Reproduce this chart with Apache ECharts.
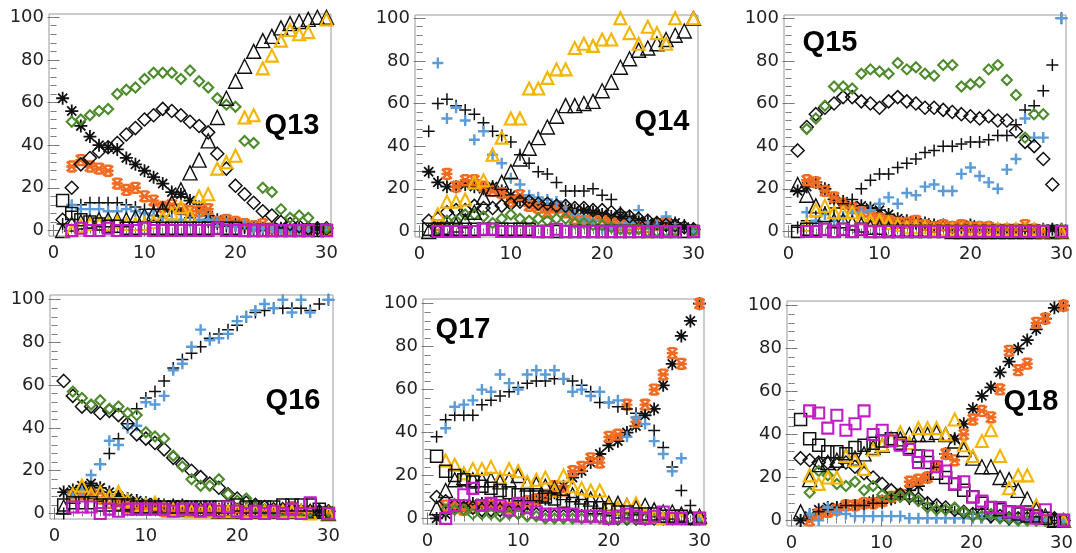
<!DOCTYPE html>
<html><head><meta charset="utf-8">
<script src="https://cdn.jsdelivr.net/npm/echarts@6/dist/echarts.min.js"></script>
<style>html,body{margin:0;padding:0;background:#fff}#c{width:1076px;height:553px}</style>
</head><body><div id="c"></div>
<script>
// ---------- data ----------
const xValues = [1,2,3,4,5,6,7,8,9,10,11,12,13,14,15,16,17,18,19,20,21,22,23,24,25,26,27,28,29,30];
const panelNames = ['Q13','Q14','Q15','Q16','Q17','Q18'];
const xTickLabels = [0,10,20,30];
const yTickLabels = [0,20,40,60,80,100];

// Q13
const q13BlackStar   = [62,56,49,44,40,39,38,34,31,28,25,22,18,17,14,11,7,5,4,3,2,1,1,1,1,1,1,1,1,1];
const q13OrangeStar  = [null,30,33,30,29,28,22,19,20,16,14,11,12,10,9,9,10,4,5,4,3,2,3,1,0,0,0,0,null,0];
const q13BlackPlus   = [3,9,12,13,13,13,13,12,11,10,10,10,9,8,6,5,4,3,2,2,1,1,1,1,1,0,0,0,0,0];
const q13BluePlus    = [null,12,10,10,10,9,9,10,9,8,7,6,5,5,4,5,5,4,3,2,3,1,1,1,0,0,0,0,null,0];
const q13BlackDiam   = [5,20,31,34,37,39,41,45,48,52,54,57,56,54,51,49,46,36,29,21,17,13,9,7,4,3,2,1,1,1];
const q13GreenDiam   = [null,51,52,54,56,57,64,66,67,71,74,74,74,71,75,70,67,62,59,58,42,41,20,18,10,6,7,6,null,1];
const q13BlackTri    = [0,3,4,4,5,5,5,5,6,7,8,10,13,19,27,33,42,53,62,70,77,84,89,91,95,97,98,99,100,100];
const q13YellowTri   = [null,0,2,3,3,3,4,3,3,3,4,6,8,11,7,16,17,29,32,35,53,54,76,82,89,94,92,93,null,99];
const q13BlackSq     = [14,8,5,4,3,2,2,1,1,1,1,1,1,1,1,1,1,1,1,1,0,0,0,0,0,0,0,0,0,0];
const q13MagSq       = [null,0,1,0,0,1,0,0,0,1,0,0,0,0,0,0,0,1,0,0,0,0,0,0,0,0,0,0,null,0];

// Q14
const q14BlackStar   = [28,23,21,21,22,21,20,21,19,17,15,14,13,12,12,11,10,10,9,8,7,7,6,5,4,4,3,4,2,1];
const q14OrangeStar  = [null,3,27,21,24,24,21,19,18,14,17,12,11,9,11,9,6,5,5,5,4,3,3,2,2,3,4,1,null,0];
const q14BlackPlus   = [47,60,62,59,57,55,51,47,45,42,36,32,28,27,23,19,19,19,20,17,15,9,7,6,5,4,4,3,3,1];
const q14BluePlus    = [null,79,53,58,52,43,47,36,32,25,22,17,16,15,14,10,8,6,5,1,2,3,4,10,3,3,7,2,null,0];
const q14BlackDiam   = [5,6,9,10,10,12,11,11,12,13,14,14,13,13,12,12,11,11,10,10,9,8,7,6,5,4,3,3,2,1];
const q14GreenDiam   = [null,1,5,5,8,8,7,4,6,8,6,5,6,5,6,6,4,4,3,3,2,1,1,1,0,0,0,0,null,0];
const q14BlackTri    = [0,1,2,3,5,9,16,20,23,28,34,39,44,49,54,59,59,60,61,66,70,77,81,85,86,88,90,92,94,100];
const q14YellowTri   = [null,8,14,14,15,23,24,36,44,53,53,67,67,72,76,76,86,88,87,90,90,100,93,88,96,93,88,100,null,100];
const q14BlackSq     = [1,1,1,1,1,1,1,1,1,1,1,1,0,0,0,0,0,0,0,0,0,0,0,0,0,0,0,0,0,0];
const q14MagSq       = [null,0,0,0,0,0,1,1,0,0,0,0,0,0,1,0,0,0,0,0,0,0,0,0,0,0,0,0,null,0];

// Q15
const q15BlackStar   = [19,21,23,20,15,14,12,12,11,10,8,6,5,4,4,3,3,2,2,3,2,2,1,1,1,1,1,1,1,1];
const q15OrangeStar  = [null,24,23,19,16,13,11,9,7,6,5,4,4,5,3,2,3,2,3,2,2,2,1,1,1,3,1,0,null,0];
const q15BlackPlus   = [2,5,7,9,11,13,15,20,24,27,27,30,32,34,37,38,40,40,41,42,42,43,45,45,50,57,59,66,78,100];
const q15BluePlus    = [null,9,5,8,5,7,9,9,10,13,16,13,18,17,21,22,19,19,27,30,26,23,20,29,34,53,44,44,null,100];
const q15BlackDiam   = [38,49,55,58,60,63,63,61,60,58,61,63,61,60,58,58,57,56,55,54,53,54,52,52,47,42,40,34,22,null];
const q15GreenDiam   = [null,48,53,59,68,68,67,74,76,75,74,79,76,77,74,73,78,78,68,69,70,76,78,71,64,44,55,55,null,null];
const q15BlackTri    = [22,17,12,8,5,5,4,3,2,2,1,1,1,1,1,1,1,0,0,0,0,0,0,0,0,0,0,0,0,0];
const q15YellowTri   = [null,3,10,12,9,9,9,6,5,5,4,3,2,2,2,1,1,1,1,1,1,1,1,1,1,1,1,0,null,0];
const q15BlackSq     = [0,1,1,1,0,1,0,1,0,0,0,0,0,0,0,0,0,0,0,0,0,0,0,0,0,0,0,0,0,0];
const q15MagSq       = [null,0,0,1,0,1,0,1,0,0,0,0,0,0,0,0,0,0,0,0,0,0,0,0,0,0,0,0,null,0];

// Q16
const q16BlackStar   = [10,11,13,14,12,10,8,7,6,5,5,4,4,4,3,3,3,2,2,2,2,2,1,1,1,1,1,1,1,1];
const q16OrangeStar  = [null,8,9,9,7,5,4,3,2,2,2,1,1,1,1,1,1,1,1,1,1,1,1,1,1,3,1,1,null,0];
const q16BlackPlus   = [0,8,12,13,23,28,35,42,49,54,57,62,68,72,75,78,82,84,86,88,92,94,95,96,96,96,96,95,98,100];
const q16BluePlus    = [null,9,11,18,23,34,32,40,41,52,51,55,67,70,78,86,81,82,84,90,92,95,98,96,100,94,100,94,null,100];
const q16BlackDiam   = [62,55,50,50,47,48,46,42,37,35,33,30,26,23,20,17,14,12,9,7,5,4,3,2,2,1,1,1,1,1];
const q16GreenDiam   = [null,57,54,51,53,49,50,47,46,38,36,35,27,22,16,13,13,16,9,6,7,3,2,1,1,1,1,1,null,1];
const q16BlackTri    = [3,8,11,10,9,8,7,5,4,4,4,3,3,2,2,2,2,1,1,1,1,1,1,1,1,1,1,1,1,0];
const q16YellowTri   = [null,9,13,9,10,8,10,6,4,4,5,3,2,2,1,1,1,1,1,1,1,1,1,1,1,1,1,0,null,0];
const q16BlackSq     = [4,5,5,5,4,4,4,4,3,3,3,3,3,3,3,3,3,3,3,4,3,3,3,3,4,4,4,4,2,0];
const q16MagSq       = [null,3,3,3,0,2,1,2,2,2,2,2,1,2,2,1,2,1,3,1,0,1,0,1,0,2,0,5,null,0];

// Q17
const q17BlackStar   = [0,2,5,6,7,7,7,6,6,6,7,8,9,12,15,19,22,26,30,34,36,40,43,48,51,62,72,85,92,100];
const q17OrangeStar  = [null,6,5,4,5,6,6,6,5,6,8,9,11,15,13,22,24,28,26,38,39,53,45,53,60,67,77,72,null,100];
const q17BlackPlus   = [38,46,48,48,48,53,55,57,59,61,63,64,64,65,65,64,62,59,54,54,52,51,49,48,41,33,24,13,6,0];
const q17BluePlus    = [null,42,52,53,55,60,59,67,63,60,67,69,67,69,65,59,60,57,59,54,55,38,47,44,36,30,22,28,null,0];
const q17BlackDiam   = [10,8,6,5,5,4,4,4,3,3,2,2,1,1,1,1,1,1,1,0,0,0,0,0,0,0,0,0,0,0];
const q17GreenDiam   = [null,4,4,4,2,2,2,1,2,2,1,1,0,0,0,0,0,0,0,0,0,0,0,0,0,0,0,0,null,0];
const q17BlackTri    = [5,13,18,19,18,18,18,17,18,20,16,16,15,14,12,11,10,9,8,7,7,6,5,6,4,3,3,2,1,1];
const q17YellowTri   = [null,27,25,21,23,23,24,19,23,22,17,18,19,13,20,15,14,13,13,6,5,6,7,2,1,0,0,0,null,0];
const q17BlackSq     = [29,22,20,18,17,15,14,13,12,11,11,11,10,9,8,7,6,5,5,4,3,3,2,2,2,1,1,1,0,0];
const q17MagSq       = [null,0,6,11,14,6,7,6,4,7,5,3,2,2,2,2,1,1,1,0,1,2,1,0,1,3,0,0,null,0];

// Q18
const q18BlackStar   = [0,2,5,6,6,7,7,8,9,9,10,12,14,16,20,25,31,38,45,52,58,62,69,74,80,84,89,94,99,100];
const q18OrangeStar  = [null,0,3,4,5,7,7,8,8,9,11,12,18,19,20,25,31,28,40,47,51,48,61,79,70,73,92,94,null,100];
const q18BlackPlus   = [0,3,4,5,6,7,7,7,8,8,10,11,10,9,8,6,5,4,3,3,2,2,1,1,1,1,0,0,0,0];
const q18BluePlus    = [null,3,0,6,4,3,2,2,2,2,2,2,1,1,1,1,1,1,1,1,1,1,1,0,0,0,0,0,null,0];
const q18BlackDiam   = [29,28,27,27,26,27,25,22,20,17,14,12,11,10,8,7,6,5,4,3,3,2,2,1,1,1,1,1,1,0];
const q18GreenDiam   = [null,13,23,21,17,16,18,14,16,12,11,11,11,9,6,5,5,6,4,2,2,3,1,1,0,0,0,0,null,0];
const q18BlackTri    = [4,19,26,27,28,30,29,31,34,35,38,38,40,40,40,41,40,37,33,29,25,25,20,19,14,10,5,2,0,0];
const q18YellowTri   = [null,21,17,20,20,30,28,24,33,35,38,41,36,43,43,43,40,47,35,30,37,42,30,15,21,21,7,1,null,0];
const q18BlackSq     = [47,38,35,32,32,31,34,35,36,37,38,36,34,30,27,22,20,17,14,11,8,6,5,4,3,2,2,1,0,0];
const q18MagSq       = [null,51,50,43,49,42,45,51,40,42,37,35,33,27,30,25,23,17,18,11,9,6,6,4,4,3,1,5,null,0];

// ---------- layout & styles ----------
const panels = [
  {left:49,  top:14,  width:282, height:222, ymax:101.5, lx:292,  ly:126,
   data:[q13BlackStar,q13OrangeStar,q13BlackPlus,q13BluePlus,q13BlackDiam,q13GreenDiam,q13BlackTri,q13YellowTri,q13BlackSq,q13MagSq]},
  {left:415, top:15,  width:283, height:222, ymax:101.5, lx:662,  ly:122,
   data:[q14BlackStar,q14OrangeStar,q14BlackPlus,q14BluePlus,q14BlackDiam,q14GreenDiam,q14BlackTri,q14YellowTri,q14BlackSq,q14MagSq]},
  {left:784, top:15,  width:282, height:222, ymax:101.5, lx:830,  ly:43,
   data:[q15BlackStar,q15OrangeStar,q15BlackPlus,q15BluePlus,q15BlackDiam,q15GreenDiam,q15BlackTri,q15YellowTri,q15BlackSq,q15MagSq]},
  {left:50,  top:295, width:283, height:224, ymax:102.2, lx:293,  ly:401,
   data:[q16BlackStar,q16OrangeStar,q16BlackPlus,q16BluePlus,q16BlackDiam,q16GreenDiam,q16BlackTri,q16YellowTri,q16BlackSq,q16MagSq]},
  {left:423, top:299, width:281, height:225, ymax:102.2, lx:463,  ly:330,
   data:[q17BlackStar,q17OrangeStar,q17BlackPlus,q17BluePlus,q17BlackDiam,q17GreenDiam,q17BlackTri,q17YellowTri,q17BlackSq,q17MagSq]},
  {left:787, top:301, width:281, height:225, ymax:102.2, lx:1031, ly:402,
   data:[q18BlackStar,q18OrangeStar,q18BlackPlus,q18BluePlus,q18BlackDiam,q18GreenDiam,q18BlackTri,q18YellowTri,q18BlackSq,q18MagSq]}
];

const STAR8 = 'path://M5 0V10M0 5H10M1.5 1.5L8.5 8.5M8.5 1.5L1.5 8.5';
const STARX = 'path://M0.5 0.5L9.5 9.5M9.5 0.5L0.5 9.5M0 5H10M2 0.5H8M2 9.5H8';
const PLUS  = 'path://M5 0V10M0 5H10';
const markStyles = [
  {symbol:STAR8,     size:13, color:'#111111', lw:1.8},
  {symbol:STARX,     size:11, color:'#F26A1F', lw:2.4},
  {symbol:PLUS,      size:12, color:'#111111', lw:1.5},
  {symbol:PLUS,      size:11, color:'#5A9BD8', lw:2.4},
  {symbol:'diamond', size:13, color:'#111111', lw:1.5},
  {symbol:'diamond', size:10, color:'#4E8B2C', lw:2.1},
  {symbol:'triangle',size:14, color:'#111111', lw:1.4},
  {symbol:'triangle',size:12, color:'#F4B400', lw:2.1},
  {symbol:'rect',    size:12, color:'#111111', lw:1.5},
  {symbol:'rect',    size:11, color:'#C21DC5', lw:2.1}
];

const XMIN = -0.5, XMAX = 30.5, YMIN = -2.6;
const grid = [], xAxis = [], yAxis = [], series = [], graphic = [];
const labelStyle = {fontSize:18, color:'#222', fontFamily:'"DejaVu Sans", sans-serif'};
const tickLine = {color:'#777', width:1};

panels.forEach((p, pi) => {
  // frame / data grid
  const gi = grid.length;
  grid.push({left:p.left, top:p.top, width:p.width, height:p.height, show:true,
             borderColor:'#9a9a9a', borderWidth:1, backgroundColor:'rgba(0,0,0,0)'});
  const dx = xAxis.length;
  xAxis.push({gridIndex:gi, type:'value', min:XMIN, max:XMAX, show:false});
  const dy = yAxis.length;
  yAxis.push({gridIndex:gi, type:'value', min:YMIN, max:p.ymax, show:false});

  // tick grid spanning 0..30 / 0..100, axes offset onto the frame
  const sx = p.width / (XMAX - XMIN), sy = p.height / (p.ymax - YMIN);
  const il = p.left + (xTickLabels[0] - XMIN) * sx;
  const iw = (xTickLabels[xTickLabels.length-1] - xTickLabels[0]) * sx;
  const it = p.top + (p.ymax - yTickLabels[yTickLabels.length-1]) * sy;
  const ih = (yTickLabels[yTickLabels.length-1] - yTickLabels[0]) * sy;
  const ti = grid.length;
  grid.push({left:il, top:it, width:iw, height:ih, show:false});
  const offL = il - p.left, offR = (p.left + p.width) - (il + iw);
  const offT = it - p.top,  offB = (p.top + p.height) - (it + ih);
  const xi = xTickLabels[1] - xTickLabels[0];
  const yi = yTickLabels[1] - yTickLabels[0];
  const xCommon = {gridIndex:ti, type:'value', min:xTickLabels[0], max:xTickLabels[xTickLabels.length-1], interval:xi,
    axisLine:{show:false}, splitLine:{show:false}, minorSplitLine:{show:false},
    axisTick:{show:true, inside:true, length:6, lineStyle:tickLine},
    minorTick:{show:true, splitNumber:10, length:3, lineStyle:tickLine}};
  xAxis.push(Object.assign({}, xCommon, {position:'bottom', offset:offB,
    axisLabel:Object.assign({show:true, margin:8}, labelStyle)}));
  xAxis.push(Object.assign({}, xCommon, {position:'top', offset:offT, axisLabel:{show:false}}));
  const yCommon = {gridIndex:ti, type:'value', min:yTickLabels[0], max:yTickLabels[yTickLabels.length-1], interval:yi,
    axisLine:{show:false}, splitLine:{show:false}, minorSplitLine:{show:false},
    axisTick:{show:true, inside:true, length:6, lineStyle:tickLine},
    minorTick:{show:true, splitNumber:5, length:3, lineStyle:tickLine}};
  yAxis.push(Object.assign({}, yCommon, {position:'left', offset:offL,
    axisLabel:Object.assign({show:true, margin:5}, labelStyle)}));
  yAxis.push(Object.assign({}, yCommon, {position:'right', offset:offR, axisLabel:{show:false}}));

  // series
  markStyles.forEach((s, si) => {
    const arr = p.data[si];
    const pts = [];
    arr.forEach((v, i) => { if (v !== null) pts.push([xValues[i], v]); });
    series.push({
      type:'scatter', xAxisIndex:dx, yAxisIndex:dy, clip:false, silent:true,
      symbol:s.symbol, symbolSize:s.size, symbolKeepAspect:true,
      itemStyle:{color:'rgba(0,0,0,0)', borderColor:s.color, borderWidth:s.lw, opacity:1},
      emphasis:{disabled:true}, z:2, data:pts
    });
  });

  graphic.push({type:'text', x:p.lx, y:p.ly, z:100,
    style:{text:panelNames[pi], fill:'#000', align:'center', verticalAlign:'middle',
           textAlign:'center', textVerticalAlign:'middle',
           font:'bold 29px "Liberation Sans", Arial, sans-serif'}});
});

const chart = echarts.init(document.getElementById('c'), null, {renderer:'canvas'});
chart.setOption({animation:false, backgroundColor:'#ffffff', grid, xAxis, yAxis, series, graphic});
</script>
</body></html>
